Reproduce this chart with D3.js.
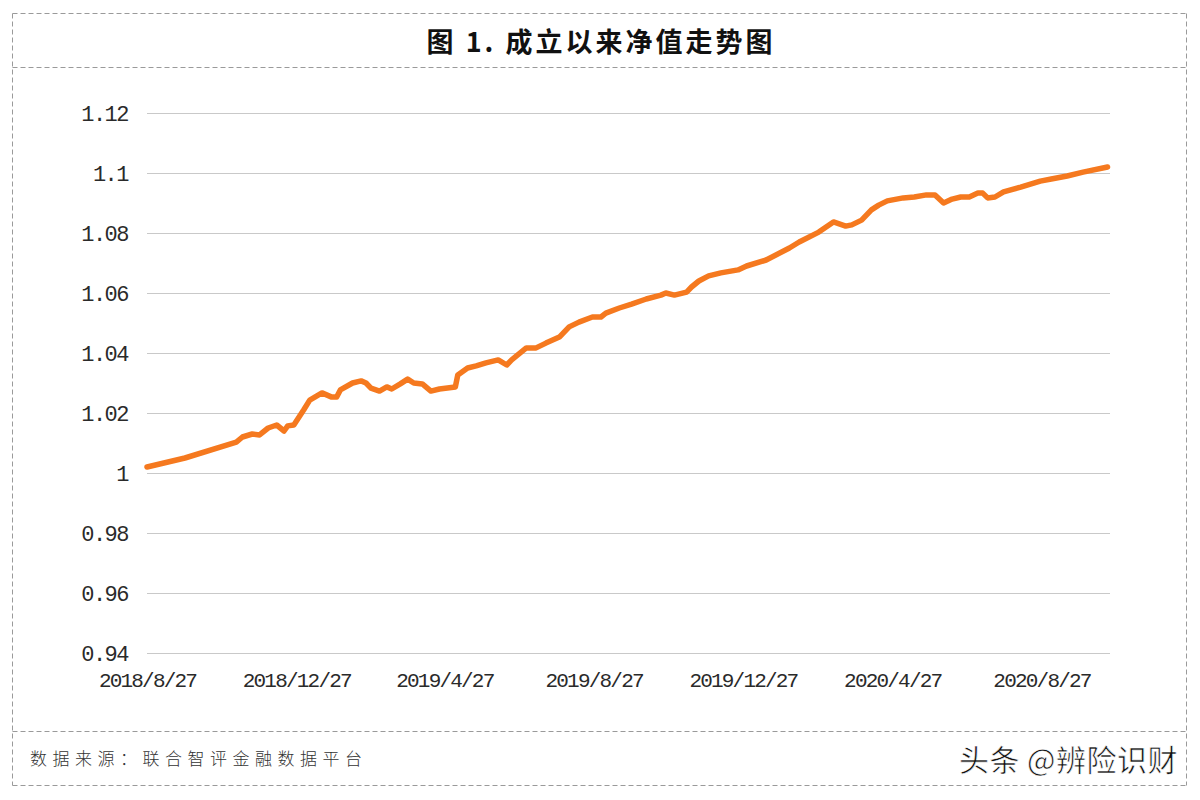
<!DOCTYPE html>
<html>
<head>
<meta charset="utf-8">
<script src="https://cdn.jsdelivr.net/npm/d3@7/dist/d3.min.js"></script>
<style>
  html, body { margin: 0; padding: 0; background: #ffffff; }
  svg { display: block; }
</style>
</head>
<body>
<svg id="chart" width="1200" height="800"></svg>
<script>
// ---- data ----
const dates = [
  "2018-08-27","2018-09-27","2018-11-08","2018-11-13","2018-11-21","2018-11-27","2018-12-04","2018-12-11",
  "2018-12-17","2018-12-20","2018-12-25","2019-01-02","2019-01-07","2019-01-17","2019-01-25","2019-01-29",
  "2019-02-01","2019-02-11","2019-02-18","2019-02-22","2019-02-26","2019-03-05","2019-03-11","2019-03-15",
  "2019-03-22","2019-03-28","2019-04-02","2019-04-09","2019-04-16","2019-04-23","2019-05-06","2019-05-08",
  "2019-05-16","2019-05-23","2019-05-31","2019-06-10","2019-06-17","2019-06-21","2019-07-03","2019-07-11",
  "2019-07-19","2019-07-30","2019-08-07","2019-08-15","2019-08-26","2019-09-02","2019-09-06","2019-09-17",
  "2019-09-27","2019-10-09","2019-10-21","2019-10-25","2019-11-01","2019-11-11","2019-11-15","2019-11-21",
  "2019-11-29","2019-12-09","2019-12-23","2019-12-30","2020-01-15","2020-02-03","2020-02-11","2020-02-27",
  "2020-03-10","2020-03-20","2020-03-25","2020-04-02","2020-04-10","2020-04-16","2020-04-23","2020-05-06",
  "2020-05-15","2020-05-25","2020-06-01","2020-06-08","2020-06-15","2020-06-22","2020-06-29","2020-07-06",
  "2020-07-10","2020-07-14","2020-07-20","2020-07-27","2020-08-10","2020-08-26","2020-09-04","2020-09-17",
  "2020-09-30","2020-10-20"
];
const navValues = [
  1.0020,1.0050,1.0103,1.0120,1.0130,1.0127,1.0150,1.0160,
  1.0140,1.0157,1.0160,1.0210,1.0243,1.0267,1.0253,1.0253,
  1.0277,1.0300,1.0307,1.0300,1.0283,1.0273,1.0287,1.0280,
  1.0297,1.0313,1.0300,1.0297,1.0273,1.0280,1.0287,1.0327,
  1.0350,1.0357,1.0367,1.0377,1.0360,1.0377,1.0417,1.0417,
  1.0433,1.0453,1.0487,1.0503,1.0520,1.0520,1.0533,1.0550,
  1.0563,1.0580,1.0593,1.0600,1.0593,1.0603,1.0620,1.0640,
  1.0657,1.0667,1.0677,1.0690,1.0710,1.0750,1.0770,1.0803,
  1.0837,1.0823,1.0827,1.0843,1.0877,1.0893,1.0907,1.0917,
  1.0920,1.0927,1.0927,1.0900,1.0913,1.0920,1.0920,1.0933,
  1.0933,1.0917,1.0920,1.0937,1.0953,1.0973,1.0980,1.0990,
  1.1003,1.1020
];
const yTicks = [0.94, 0.96, 0.98, 1, 1.02, 1.04, 1.06, 1.08, 1.1, 1.12];
const yTickLabels = ["0.94","0.96","0.98","1","1.02","1.04","1.06","1.08","1.1","1.12"];
const xTickLabels = ["2018/8/27","2018/12/27","2019/4/27","2019/8/27","2019/12/27","2020/4/27","2020/8/27"];
const xDomain = ["2018-08-27", "2020-10-22"];
const titleText = "图 1. 成立以来净值走势图";
const sourceText = "数据来源：联合智评金融数据平台";
const watermarkText = "头条 @辨险识财";

// ---- drawing ----
const svg = d3.select("#chart");
const parseISO = d3.timeParse("%Y-%m-%d");
const parseLabel = d3.timeParse("%Y/%m/%d");

const W = 1200, H = 800;
const plot = { left: 147, right: 1110, top: 113, bottom: 653 };

svg.append("rect").attr("width", W).attr("height", H).attr("fill", "#ffffff");

// frame (dashed)
const frame = svg.append("g")
  .attr("stroke", "#9a9a9a").attr("stroke-width", 1)
  .attr("stroke-dasharray", "5,3").attr("fill", "none");
const fx0 = 12.5, fx1 = 1186.5;
[13.5, 67.5, 731.5, 785.5].forEach(yy => {
  frame.append("line").attr("x1", fx0).attr("x2", fx1).attr("y1", yy).attr("y2", yy);
});
[fx0, fx1].forEach(xx => {
  frame.append("line").attr("x1", xx).attr("x2", xx).attr("y1", 13.5).attr("y2", 785.5);
});

// title
svg.append("text")
  .attr("x", 601).attr("y", 40)
  .attr("text-anchor", "middle").attr("dominant-baseline", "central")
  .attr("font-family", "'Noto Sans CJK SC', sans-serif")
  .attr("font-weight", "bold").attr("font-size", 27)
  .attr("letter-spacing", 3)
  .attr("fill", "#111")
  .text(titleText);

// scales
const x = d3.scaleTime()
  .domain(xDomain.map(parseISO))
  .range([plot.left, plot.right]);
const y = d3.scaleLinear()
  .domain([0.94, 1.12])
  .range([plot.bottom, plot.top]);

// gridlines
svg.append("g").selectAll("line")
  .data(yTicks).join("line")
  .attr("x1", plot.left).attr("x2", plot.right)
  .attr("y1", d => Math.round(y(d)) + 0.5).attr("y2", d => Math.round(y(d)) + 0.5)
  .attr("stroke", "#c9c9c9").attr("stroke-width", 1);

// y axis
const yAxis = d3.axisLeft(y)
  .tickValues(yTicks)
  .tickFormat((d, i) => yTickLabels[i])
  .tickSize(0).tickPadding(19);
const gy = svg.append("g").attr("transform", `translate(${plot.left},0)`).call(yAxis);
gy.select(".domain").remove();
gy.selectAll("text")
  .attr("font-family", "'Liberation Mono', 'DejaVu Sans Mono', monospace")
  .attr("font-size", 22).attr("letter-spacing", -1.5)
  .attr("fill", "#2a2a2a");

// x axis
const xAxis = d3.axisBottom(x)
  .tickValues(xTickLabels.map(parseLabel))
  .tickFormat((d, i) => xTickLabels[i])
  .tickSize(0);
const gx = svg.append("g").attr("transform", `translate(0,${plot.bottom})`).call(xAxis);
gx.select(".domain").remove();
gx.selectAll("text")
  .attr("y", 27).attr("dy", "0.35em")
  .attr("font-family", "'Liberation Mono', 'DejaVu Sans Mono', monospace")
  .attr("font-size", 21).attr("letter-spacing", -1.8)
  .attr("fill", "#2a2a2a");

// line
const series = dates.map((d, i) => ({ date: parseISO(d), value: navValues[i] }));
const line = d3.line().x(d => x(d.date)).y(d => y(d.value));
svg.append("path")
  .datum(series)
  .attr("d", line)
  .attr("fill", "none")
  .attr("stroke", "#F5791F")
  .attr("stroke-width", 5.5)
  .attr("stroke-linejoin", "round")
  .attr("stroke-linecap", "round");

// footer
svg.append("text")
  .attr("x", 30).attr("y", 757)
  .attr("dominant-baseline", "central")
  .attr("font-family", "'Noto Sans CJK SC', sans-serif")
  .attr("font-size", 17).attr("font-weight", 300)
  .attr("letter-spacing", 5.5)
  .attr("fill", "#333")
  .text(sourceText);

svg.append("text")
  .attr("x", 1178).attr("y", 758)
  .attr("text-anchor", "end").attr("dominant-baseline", "central")
  .attr("font-family", "'Noto Sans CJK SC', sans-serif")
  .attr("font-size", 30)
  .attr("letter-spacing", 0.5)
  .attr("fill", "#111")
  .attr("stroke", "#ffffff").attr("stroke-width", 0.6)
  .text(watermarkText);
</script>
</body>
</html>
